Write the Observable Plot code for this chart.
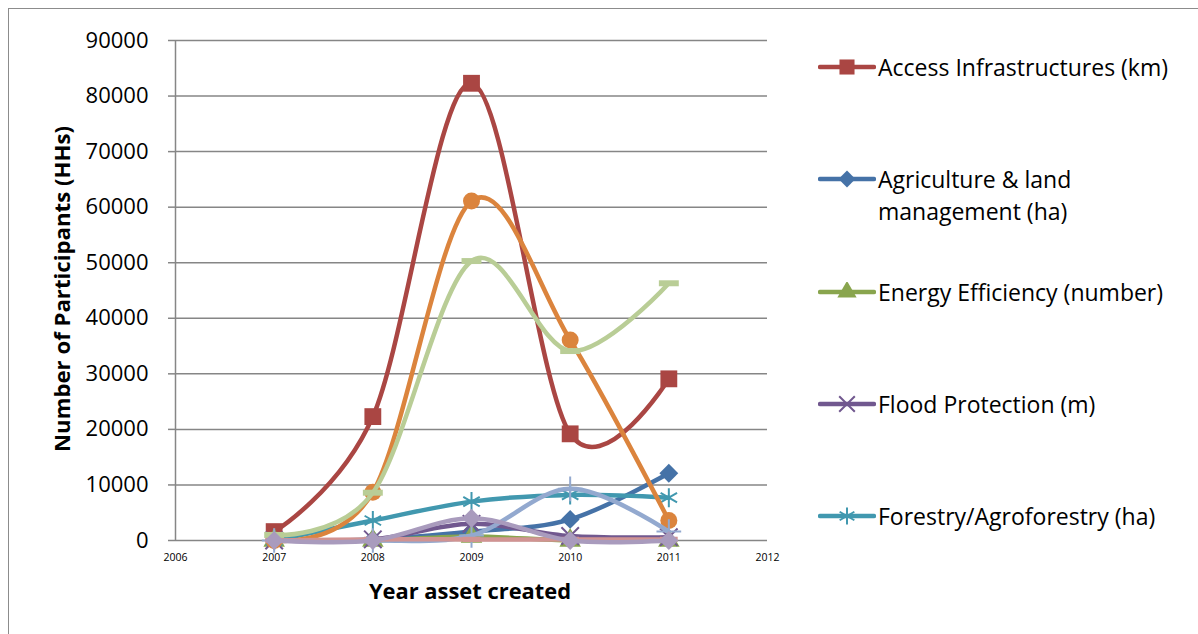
<!DOCTYPE html>
<html>
<head>
<meta charset="utf-8">
<script src="https://cdn.jsdelivr.net/npm/d3@7"></script>
<script src="https://cdn.jsdelivr.net/npm/@observablehq/plot@0.6"></script>
<style>
  body { margin: 0; width: 1198px; height: 634px; overflow: hidden; background: #fff; position: relative; font-family: "Open Sans", Lato, sans-serif; }
  #frame { position: absolute; left: 8px; top: 8px; width: 1400px; height: 800px; border: 1.5px solid #8c8c8c; }
  #chart { position: absolute; left: 0; top: 0; }
  #ytitle { position: absolute; left: 61px; top: 289px; transform: translate(-50%, -50%) rotate(-90deg); white-space: nowrap; font-weight: bold; font-size: 22.2px; color: #000; }
  #xtitle { position: absolute; left: 470px; top: 590px; transform: translate(-50%, -50%); white-space: nowrap; font-weight: bold; font-size: 21.9px; color: #000; }
  .item { position: absolute; left: 818px; display: flex; align-items: flex-start; font-size: 23px; line-height: 32px; color: #000; white-space: nowrap; }
  .item svg { flex: none; margin-top: 6px; margin-right: 2px; }
</style>
</head>
<body>
<div id="frame"></div>
<div id="chart"></div>
<div id="ytitle">Number of Participants (HHs)</div>
<div id="xtitle">Year asset created</div>
<div id="legend"></div>
<script>
// Participants (households) by year the asset was created, per asset type
const years = [2007, 2008, 2009, 2010, 2011];
const accessInfrastructures = [1600, 22300, 82300, 19200, 29100];
const agricultureLand = [0, 200, 1600, 3800, 12100];
const energyEfficiency = [0, 0, 700, 0, 0];
const floodProtection = [0, 200, 3000, 800, 600];
const forestryAgroforestry = [0, 3600, 7000, 8200, 7700];
const seriesSix = [0, 8700, 61100, 36100, 3600];
const seriesSeven = [0, 0, 900, 9300, 1600];
const seriesEight = [0, 200, 200, 200, 200];
const seriesNine = [1000, 8600, 50300, 34100, 46300];
const seriesTen = [0, 0, 4000, 0, 0];

const yTicks = [0, 10000, 20000, 30000, 40000, 50000, 60000, 70000, 80000, 90000];
const xTicks = [2006, 2007, 2008, 2009, 2010, 2011, 2012];

const legendNames = [
  "Access Infrastructures (km)",
  "Agriculture & land management (ha)",
  "Energy Efficiency (number)",
  "Flood Protection (m)",
  "Forestry/Agroforestry (ha)"
];

// short flat bar marker
const dash = {
  draw(ctx, size) {
    const w = Math.sqrt(size) * 1.25, h = w * 0.3;
    ctx.rect(-w / 2, -h / 2, w, h);
  }
};

// drawing order: earlier series underneath later ones
const series = [
  {name: legendNames[1], values: agricultureLand, color: "#4572A7", symbol: "diamond2", filled: true, r: 8.5},
  {name: legendNames[0], values: accessInfrastructures, color: "#AA4643", symbol: "square", filled: true, r: 9.5},
  {name: legendNames[2], values: energyEfficiency, color: "#89A54E", symbol: "triangle", filled: true, r: 8},
  {name: legendNames[3], values: floodProtection, color: "#71588F", symbol: "times", filled: false, r: 8},
  {name: legendNames[4], values: forestryAgroforestry, color: "#4198AF", symbol: "asterisk", filled: false, r: 9},
  {name: "Series 6", values: seriesSix, color: "#DB843D", symbol: "circle", filled: true, r: 8.5},
  {name: "Series 7", values: seriesSeven, color: "#93A9CF", symbol: "plus", filled: false, r: 8},
  {name: "Series 8", values: seriesEight, color: "#D19392", symbol: dash, filled: true, r: 8},
  {name: "Series 9", values: seriesNine, color: "#B9CD96", symbol: dash, filled: true, r: 9},
  {name: "Series 10", values: seriesTen, color: "#A99BBD", symbol: "diamond2", filled: true, r: 8.5}
];

const seriesMarks = series.flatMap(s => {
  const rows = years.map((year, i) => ({year, value: s.values[i]}));
  return [
    Plot.line(rows, {x: "year", y: "value", stroke: s.color, strokeWidth: 4.5, curve: "cardinal", strokeLinejoin: "round", strokeLinecap: "round"}),
    Plot.dot(rows, {
      x: "year", y: "value", r: s.r, symbol: () => s.symbol,
      fill: s.filled ? s.color : "none",
      stroke: s.filled ? "none" : s.color,
      strokeWidth: 2
    })
  ];
});

const chart = Plot.plot({
  width: 1198,
  height: 634,
  marginLeft: 175,
  marginRight: 431,
  marginTop: 40,
  marginBottom: 94,
  style: {fontFamily: "'Open Sans', Lato, sans-serif", background: "transparent", overflow: "visible"},
  x: {domain: [2006, 2012]},
  y: {domain: [0, 90000]},
  marks: [
    Plot.ruleY(yTicks, {stroke: "#868686", strokeWidth: 1.5}),
    Plot.ruleX([2006], {stroke: "#868686", strokeWidth: 1.5}),
    Plot.axisY({ticks: yTicks, tickFormat: d => String(d), tickSize: 7, tickPadding: 20, fontSize: 22, stroke: "#868686", strokeWidth: 1.5, fill: "#000", label: null}),
    Plot.axisX({ticks: xTicks, tickFormat: d => String(d), tickSize: 0, tickPadding: 13, fontSize: 10.5, fill: "#000", label: null}),
    ...seriesMarks
  ]
});
document.getElementById("chart").append(chart);

// legend: first five series, in alphabetical order
const legendOrder = [1, 0, 2, 3, 4];
const legendTops = [51, 163, 276, 388, 500];
const legend = d3.select("#legend");
legendOrder.forEach((idx, k) => {
  const s = series[idx];
  const item = legend.append("div").attr("class", "item").style("top", legendTops[k] + "px");
  const svg = item.append("svg").attr("width", 58).attr("height", 20);
  svg.append("line").attr("x1", 2).attr("x2", 56).attr("y1", 10).attr("y2", 10)
    .attr("stroke", s.color).attr("stroke-width", 4.5).attr("stroke-linecap", "round");
  const symType = {
    square: d3.symbolSquare, diamond2: d3.symbolDiamond2, triangle: d3.symbolTriangle,
    times: d3.symbolTimes, asterisk: d3.symbolAsterisk
  }[s.symbol];
  svg.append("path")
    .attr("transform", "translate(29,10)")
    .attr("d", d3.symbol(symType, Math.PI * s.r * s.r * 0.8)())
    .attr("fill", s.filled ? s.color : "none")
    .attr("stroke", s.filled ? "none" : s.color)
    .attr("stroke-width", 2);
  const label = item.append("div");
  if (idx === 0) {
    label.html("Agriculture &amp; land<br>management (ha)");
  } else {
    label.text(s.name);
  }
});
</script>
</body>
</html>
